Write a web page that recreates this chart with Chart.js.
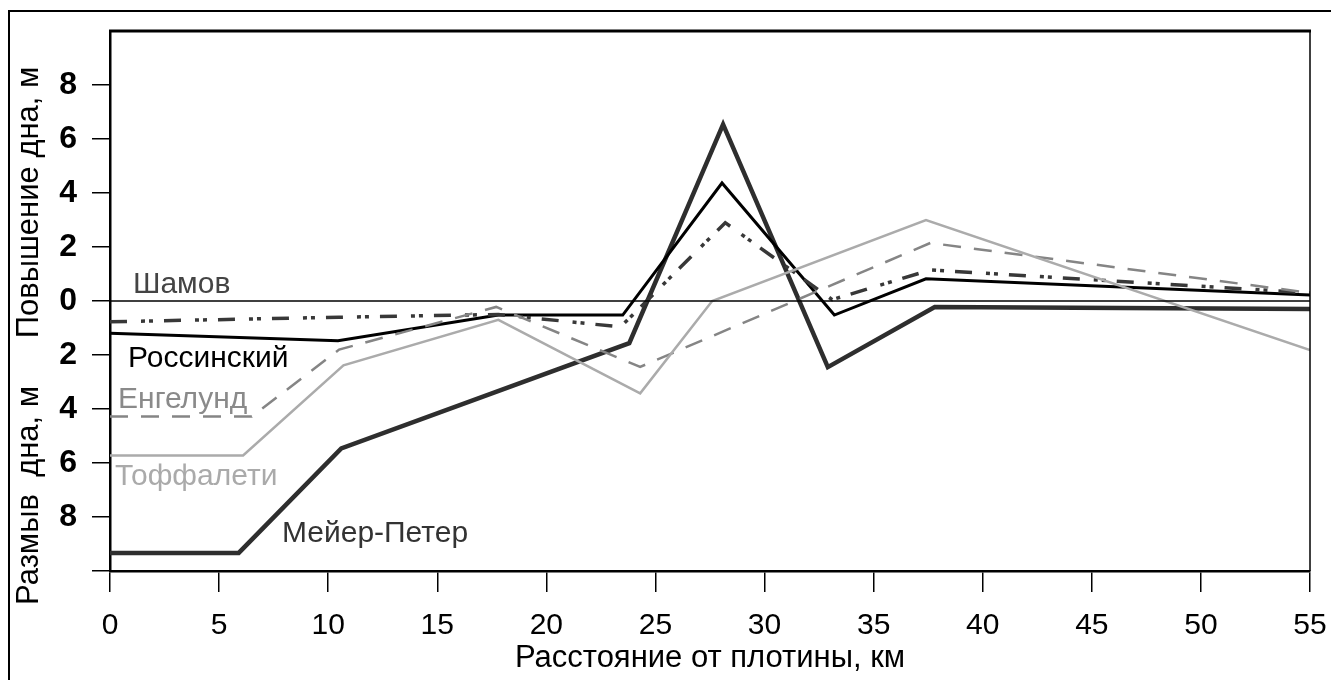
<!DOCTYPE html>
<html>
<head>
<meta charset="utf-8">
<script src="https://cdn.jsdelivr.net/npm/chart.js@4.4.1/dist/chart.umd.min.js"></script>
<style>
  html, body { margin: 0; padding: 0; background: #fff; }
  #wrap { position: relative; width: 1331px; height: 680px; }
</style>
</head>
<body>
<div id="wrap"><canvas id="c" width="1331" height="680"></canvas></div>
<script>
// ---- Data ----
const xTicks = [0, 5, 10, 15, 20, 25, 30, 35, 40, 45, 50, 55];
const yTicks = [-10, -8, -6, -4, -2, 0, 2, 4, 6, 8, 10];

const zeroX = [0, 55];
const zeroY = [0, 0];

const shamovX = [0, 10.5, 17.8, 23.4, 28.2, 33.1, 37.6, 55];
const shamovY = [-0.77, -0.6, -0.5, -0.96, 2.9, 0.05, 1.15, 0.3];

const rossX = [0, 10.45, 17.8, 23.5, 28.05, 33.2, 37.4, 55];
const rossY = [-1.19, -1.47, -0.52, -0.52, 4.37, -0.52, 0.82, 0.22];

const engX = [0, 6.5, 10.5, 17.7, 24.3, 37.6, 55];
const engY = [-4.28, -4.28, -1.8, -0.22, -2.44, 2.15, 0.3];

const toffX = [0, 6.1, 10.7, 17.8, 24.3, 27.6, 37.4, 55];
const toffY = [-5.72, -5.72, -2.38, -0.7, -3.42, 0.0, 3.0, -1.82];

const meyerX = [0, 5.9, 10.6, 23.8, 28.1, 32.9, 37.8, 55];
const meyerY = [-9.33, -9.33, -5.46, -1.56, 6.54, -2.45, -0.22, -0.3];

const seriesNames = ['Шамов', 'Россинский', 'Енгелунд', 'Тоффалети', 'Мейер-Петер'];
const xTitle = 'Расстояние от плотины, км';
const yTitleUp = 'Повышение дна, м';
const yTitleDown = 'Размыв  дна, м';

// ---- helpers ----
const pts = (xs, ys) => xs.map((x, i) => ({ x: x, y: ys[i] }));

// in-chart series labels: [text, x(km), y(m), colour]
const seriesLabels = [
  [seriesNames[0], 1.05, 0.3, '#444'],
  [seriesNames[1], 0.83, -2.44, '#000'],
  [seriesNames[2], 0.37, -3.96, '#8a8a8a'],
  [seriesNames[3], 0.23, -6.81, '#aaaaaa'],
  [seriesNames[4], 7.88, -8.93, '#333']
];

const FONT = '"Liberation Sans", Arial, sans-serif';

const decorPlugin = {
  id: 'decor',
  beforeDraw(chart) {
    const ctx = chart.ctx;
    ctx.save();
    ctx.fillStyle = '#fff';
    ctx.fillRect(0, 0, chart.width, chart.height);
    ctx.strokeStyle = '#000';
    ctx.lineWidth = 2;
    ctx.beginPath();
    ctx.moveTo(9, 690);
    ctx.lineTo(9, 11);
    ctx.lineTo(1340, 11);
    ctx.stroke();
    ctx.restore();
  },
  afterDraw(chart) {
    const ctx = chart.ctx;
    const a = chart.chartArea;
    ctx.save();
    ctx.strokeStyle = '#000';
    ctx.lineWidth = 3;
    ctx.beginPath();
    ctx.moveTo(a.left - 1, a.top);
    ctx.lineTo(a.right + 1, a.top);
    ctx.stroke();
    ctx.lineWidth = 1.5;
    ctx.beginPath();
    ctx.moveTo(a.right, a.top);
    ctx.lineTo(a.right, a.bottom);
    ctx.stroke();

    // y titles (two halves)
    const ys = chart.scales.y;
    ctx.fillStyle = '#000';
    ctx.font = '31px ' + FONT;
    ctx.textAlign = 'center';
    ctx.textBaseline = 'alphabetic';
    const drawV = (text, cy) => {
      ctx.save();
      ctx.translate(38, cy);
      ctx.rotate(-Math.PI / 2);
      ctx.fillText(text, 0, 0);
      ctx.restore();
    };
    drawV(yTitleUp, ys.getPixelForValue(3.65));
    drawV(yTitleDown, ys.getPixelForValue(-7.2));

    // series labels
    const xs = chart.scales.x;
    ctx.textAlign = 'left';
    ctx.font = '30px ' + FONT;
    seriesLabels.forEach(l => {
      ctx.fillStyle = l[3];
      ctx.fillText(l[0], xs.getPixelForValue(l[1]), ys.getPixelForValue(l[2]));
    });
    ctx.restore();
  }
};

new Chart(document.getElementById('c'), {
  type: 'line',
  data: {
    datasets: [
      { label: 'zero', data: pts(zeroX, zeroY), borderColor: '#000', borderWidth: 1.5 },
      { label: seriesNames[3], data: pts(toffX, toffY), borderColor: '#ababab', borderWidth: 2.5 },
      { label: seriesNames[2], data: pts(engX, engY), borderColor: '#858585', borderWidth: 2.5, borderDash: [18, 13] },
      { label: seriesNames[0], data: pts(shamovX, shamovY), borderColor: '#383838', borderWidth: 3.5, borderDash: [17, 14, 4, 4, 4, 11] },
      { label: seriesNames[1], data: pts(rossX, rossY), borderColor: '#000', borderWidth: 3 },
      { label: seriesNames[4], data: pts(meyerX, meyerY), borderColor: '#2e2e2e', borderWidth: 4.5 }
    ]
  },
  options: {
    responsive: false,
    animation: false,
    events: [],
    elements: { point: { radius: 0 }, line: { tension: 0, fill: false, borderCapStyle: 'butt', borderJoinStyle: 'miter' } },
    layout: { padding: { top: 31, right: 21, left: 0, bottom: 0 } },
    plugins: { legend: { display: false }, tooltip: { enabled: false } },
    scales: {
      x: {
        type: 'linear',
        min: 0, max: 55,
        afterFit(s) { s.height = 109; s.paddingLeft = 0; s.paddingRight = 0; },
        afterBuildTicks(s) { s.ticks = xTicks.map(v => ({ value: v })); },
        ticks: { color: '#000', font: { family: FONT, size: 30 }, padding: 16, maxRotation: 0 },
        grid: { drawOnChartArea: false, drawTicks: true, tickLength: 21, color: '#000', lineWidth: 1.5 },
        border: { display: true, color: '#000', width: 2.5 },
        title: { display: true, text: xTitle, color: '#000', font: { family: FONT, size: 31 }, padding: { top: 0, bottom: 3 } }
      },
      y: {
        min: -10, max: 10,
        afterFit(s) { s.width = 110; s.paddingTop = 0; s.paddingBottom = 0; },
        afterBuildTicks(s) { s.ticks = yTicks.map(v => ({ value: v })); },
        ticks: {
          color: '#000',
          font: { family: FONT, size: 32, weight: 'bold' },
          padding: 15,
          callback: v => (Math.abs(v) === 10 ? '' : String(Math.abs(v)))
        },
        grid: {
          drawOnChartArea: false, drawTicks: true, tickLength: 18, lineWidth: 1.5,
          color: c => (c.tick && c.tick.value === 10 ? 'rgba(0,0,0,0)' : '#000')
        },
        border: { display: true, color: '#000', width: 2.5 }
      }
    }
  },
  plugins: [decorPlugin]
});
</script>
</body>
</html>
